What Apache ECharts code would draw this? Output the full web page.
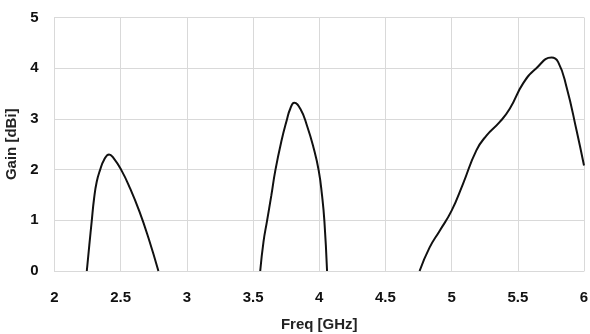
<!DOCTYPE html>
<html>
<head>
<meta charset="utf-8">
<script src="https://cdn.jsdelivr.net/npm/echarts@6/dist/echarts.min.js"></script>
<style>
  html, body { margin: 0; padding: 0; background: #fff; }
</style>
</head>
<body>
<div id="chart" style="width: 590px; height: 334px"></div>
<script>
// band 1 (around 2.4 GHz)
var freq1 = [2.244, 2.263, 2.281, 2.299, 2.319, 2.344, 2.374, 2.412, 2.445, 2.505, 2.571, 2.642, 2.710, 2.785];
var gain1 = [0, 0.51, 0.98, 1.43, 1.76, 1.99, 2.19, 2.30, 2.23, 1.99, 1.63, 1.17, 0.65, 0];
// band 2 (around 3.8 GHz)
var freq2 = [3.554, 3.579, 3.605, 3.638, 3.668, 3.713, 3.756, 3.781, 3.811, 3.857, 3.907, 3.958, 3.996, 4.021, 4.039, 4.059];
var gain2 = [0, 0.58, 0.98, 1.49, 1.98, 2.55, 2.99, 3.20, 3.32, 3.20, 2.87, 2.42, 1.98, 1.49, 0.98, 0];
// band 3 (5 - 6 GHz)
var freq3 = [4.758, 4.833, 4.909, 5.0, 5.086, 5.187, 5.263, 5.364, 5.439, 5.54, 5.64, 5.755, 5.805, 5.868, 5.944, 6.0];
var gain3 = [0, 0.46, 0.79, 1.19, 1.72, 2.38, 2.67, 2.94, 3.20, 3.70, 4.0, 4.21, 4.12, 3.63, 2.77, 2.08];

var xTicks = ["2", "2.5", "3", "3.5", "4", "4.5", "5", "5.5", "6"];
var yTicks = ["0", "1", "2", "3", "4", "5"];

function pairs(xs, ys) {
  return xs.map(function (x, i) { return [x, ys[i]]; });
}

var font = '"Liberation Sans Narrow", "Liberation Sans", sans-serif';
var gridColor = "#d9d9d9";

function band(xs, ys) {
  return {
    type: "line",
    smooth: 0.5,
    showSymbol: false,
    data: pairs(xs, ys),
    lineStyle: { color: "#111", width: 2 },
    itemStyle: { color: "#111" },
  };
}

var chart = echarts.init(document.getElementById("chart"));
chart.setOption({
  animation: false,
  grid: { left: 54.5, right: 6, top: 17.5, bottom: 63, outerBoundsMode: "none", containLabel: false },
  xAxis: {
    type: "value",
    min: 2,
    max: 6,
    interval: 0.5,
    name: "Freq [GHz]",
    nameLocation: "middle",
    nameGap: 46,
    nameTextStyle: { fontFamily: font, fontWeight: "bold", fontSize: 15, color: "#222" },
    axisLine: { show: true, lineStyle: { color: gridColor, width: 1 } },
    axisTick: { show: false },
    axisLabel: {
      margin: 19,
      fontFamily: font,
      fontWeight: "bold",
      fontSize: 15,
      color: "#111",
      formatter: function (v) {
        return xTicks[Math.round((v - 2) / 0.5)];
      },
    },
    splitLine: { show: true, lineStyle: { color: gridColor, width: 1 } },
  },
  yAxis: {
    type: "value",
    min: 0,
    max: 5,
    interval: 1,
    name: "Gain [dBi]",
    nameLocation: "middle",
    nameGap: 28,
    nameTextStyle: { fontFamily: font, fontWeight: "bold", fontSize: 15, color: "#222" },
    axisLine: { show: true, lineStyle: { color: gridColor, width: 1 } },
    axisTick: { show: false },
    axisLabel: {
      margin: 16,
      fontFamily: font,
      fontWeight: "bold",
      fontSize: 15,
      color: "#111",
      formatter: function (v) {
        return yTicks[Math.round(v)];
      },
    },
    splitLine: { show: true, lineStyle: { color: gridColor, width: 1 } },
  },
  series: [band(freq1, gain1), band(freq2, gain2), band(freq3, gain3)],
});
</script>
</body>
</html>
